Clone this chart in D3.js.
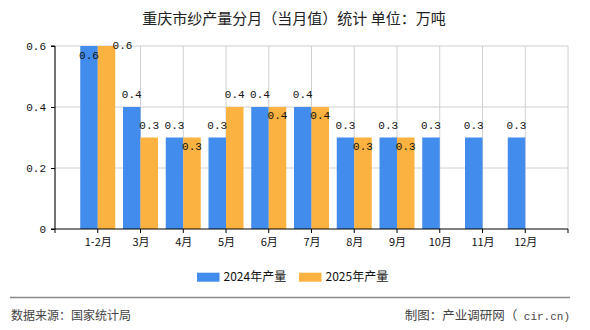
<!DOCTYPE html>
<html><head><meta charset="utf-8">
<script src="https://cdn.jsdelivr.net/npm/d3@7"></script>
<style>body{margin:0;background:#fff}svg{display:block}</style>
</head><body>
<script>
const categories = ["1-2月","3月","4月","5月","6月","7月","8月","9月","10月","11月","12月"];
const series2024 = [0.6,0.4,0.3,0.3,0.4,0.4,0.3,0.3,0.3,0.3,0.3];
const series2025 = [0.6,0.3,0.3,0.4,0.4,0.4,0.3,0.3,null,null,null];
const yTicks = [0,0.2,0.4,0.6];
const seriesNames = ["2024年产量","2025年产量"];
const colors = ["#418cec","#fcb241"];

const W=590,H=330;
const svg=d3.select("body").append("svg").attr("width",W).attr("height",H);
const L=55,R=568,T=46,B=229;
const x=d3.scalePoint().domain(categories).range([L,R]).padding(1);
const y=d3.scaleLinear().domain([0,0.6]).range([B,T]);
const monoFont="'Liberation Mono','DejaVu Sans Mono',monospace";
const cjk="'Noto Sans CJK SC','Noto Sans',sans-serif";

svg.append("text").attr("x",294).attr("y",18.5).attr("dy","0.35em").attr("text-anchor","middle")
  .attr("font-family",cjk).attr("font-size",15).attr("fill","#222")
  .text("重庆市纱产量分月（当月值）统计 单位：万吨");

// grid
const g=svg.append("g");
yTicks.filter(d=>d>0).forEach(t=>{
  g.append("line").attr("x1",L).attr("x2",R).attr("y1",y(t)).attr("y2",y(t)).attr("stroke","#d0d0d0");
});
const tickXs=[L].concat(categories.map(c=>x(c))).concat([R]);
tickXs.forEach(tx=>{
  g.append("line").attr("x1",tx).attr("x2",tx).attr("y1",T).attr("y2",B).attr("stroke","#d0d0d0");
});

// bars
const bw=17.5;
const bars=[series2024,series2025];
bars.forEach((s,si)=>{
  s.forEach((v,i)=>{
    if(v==null)return;
    const cx=x(categories[i]);
    const x0= si===0? cx-bw : cx;
    svg.append("rect").attr("x",x0).attr("y",y(v)).attr("width",bw).attr("height",B-y(v)).attr("fill",colors[si]);
  });
});

// axes
const yAxis=d3.axisLeft(y).tickValues(yTicks).tickSize(4).tickFormat(d=>d===0?"0":d3.format(".1f")(d));
const ya=svg.append("g").attr("transform",`translate(${L},0)`).call(yAxis);
ya.select(".domain").attr("stroke","#000").attr("d",`M-4,${T}H0V${B}H-4`);
ya.selectAll(".tick line").attr("stroke","#000");
ya.selectAll(".tick text").attr("font-family",monoFont).attr("font-size",11).attr("fill","#111").attr("x",-9);

const xa=svg.append("g").attr("transform",`translate(0,${B})`);
xa.append("line").attr("x1",L).attr("x2",R).attr("stroke","#000");
tickXs.forEach(tx=>xa.append("line").attr("x1",tx).attr("x2",tx).attr("y1",0).attr("y2",4).attr("stroke","#000"));
const xAxis=d3.axisBottom(x).tickSize(0).tickPadding(0);
const xg=svg.append("g").attr("transform",`translate(0,${B})`).call(xAxis);
xg.select(".domain").remove();
xg.selectAll(".tick text").attr("font-family",cjk).attr("font-size",11).attr("fill","#111").attr("dy",null).attr("y",17);

// labels
function lbl(xp,yp,t){
  svg.append("text").attr("x",xp).attr("y",yp).attr("dy","0.35em").attr("text-anchor","middle")
   .attr("font-family",monoFont).attr("font-size",11).attr("fill","#111").text(t);
}
const fmt=d3.format(".1f");
categories.forEach((c,i)=>{
  const cx=x(c);
  const v1=series2024[i], v2=series2025[i];
  let bY=null;
  if(v1!=null){
    const top=y(v1);
    bY= top-12.5 < T-3 ? top+9 : top-12.5;
    lbl(cx-bw/2,bY,fmt(v1));
  }
  if(v2!=null){
    const top=y(v2);
    let oy=top-12.5, ox=cx+bw/2;
    if(oy < T-3){ oy=T-1; ox=cx+bw/2+16; }
    else if(bY!=null && Math.abs(oy-bY)<12){ oy=top+8.5; }
    lbl(ox,oy,fmt(v2));
  }
});

// legend
const lg=svg.append("g");
seriesNames.forEach((n,i)=>{
  const lx=197+i*102;
  lg.append("rect").attr("x",lx).attr("y",272.7).attr("width",22.5).attr("height",9).attr("fill",colors[i]);
  lg.append("text").attr("x",lx+26.5).attr("y",277).attr("dy","0.35em").attr("font-family",cjk).attr("font-size",12).attr("fill","#111").text(n);
});

// footer
svg.append("line").attr("x1",10).attr("x2",570).attr("y1",297.5).attr("y2",297.5).attr("stroke","#888").attr("stroke-width",1.5);
svg.append("text").attr("x",11).attr("y",316).attr("dy","0.35em").attr("font-family",cjk).attr("font-size",12).attr("fill","#444").text("数据来源：国家统计局");
const ft=svg.append("text").attr("x",570).attr("y",316).attr("dy","0.35em").attr("text-anchor","end").attr("font-family",cjk).attr("font-size",12.5).attr("fill","#444");
ft.append("tspan").text("制图：产业调研网（");
ft.append("tspan").attr("font-family",monoFont).attr("font-size",11).attr("xml:space","preserve").text(" cir.cn)");
</script>
</body></html>
